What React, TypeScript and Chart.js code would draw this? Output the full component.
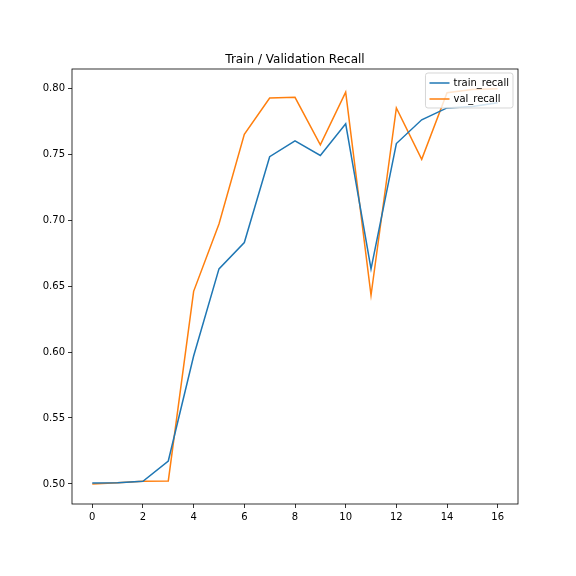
import React, { useEffect, useRef } from "react";
import { Chart, registerables } from "chart.js";

Chart.register(...registerables);

const epochs = [0, 1, 2, 3, 4, 5, 6, 7, 8, 9, 10, 11, 12, 13, 14, 15, 16];
const trainRecall = [0.5008, 0.501, 0.502, 0.5174, 0.597, 0.663, 0.683, 0.748, 0.760, 0.749, 0.773, 0.663, 0.758, 0.776, 0.785, 0.786, 0.789];
const valRecall = [0.500, 0.501, 0.502, 0.5023, 0.646, 0.697, 0.765, 0.7925, 0.793, 0.757, 0.797, 0.643, 0.785, 0.746, 0.7965, 0.799, 0.7995];
const xTicks = [0, 2, 4, 6, 8, 10, 12, 14, 16];
const yTicks = [0.5, 0.55, 0.6, 0.65, 0.7, 0.75, 0.8];
const titleText = "Train / Validation Recall";
const seriesNames = ["train_recall", "val_recall"];
const seriesColors = ["#1f77b4", "#ff7f0e"];

const FONT = "'DejaVu Sans', sans-serif";

const framePlugin = {
  id: "frame",
  afterDraw(chart: any) {
    const { ctx, chartArea } = chart;
    const { left, right, top, bottom } = chartArea;
    ctx.save();
    // spines
    ctx.strokeStyle = "#000";
    ctx.lineWidth = 0.8;
    ctx.strokeRect(left, top, right - left, bottom - top);
    // title
    ctx.fillStyle = "#000";
    ctx.font = `12px ${FONT}`;
    ctx.textAlign = "center";
    ctx.textBaseline = "alphabetic";
    ctx.fillText(titleText, (left + right) / 2, top - 6);
    // legend
    ctx.font = `10px ${FONT}`;
    const textW = Math.max(...seriesNames.map((n) => ctx.measureText(n).width));
    const bw = 4 + 20 + 4 + textW + 4;
    const bh = 35;
    const bx = right - 5 - bw;
    const by = top + 4;
    const r = 2.5;
    ctx.beginPath();
    ctx.moveTo(bx + r, by);
    ctx.lineTo(bx + bw - r, by);
    ctx.quadraticCurveTo(bx + bw, by, bx + bw, by + r);
    ctx.lineTo(bx + bw, by + bh - r);
    ctx.quadraticCurveTo(bx + bw, by + bh, bx + bw - r, by + bh);
    ctx.lineTo(bx + r, by + bh);
    ctx.quadraticCurveTo(bx, by + bh, bx, by + bh - r);
    ctx.lineTo(bx, by + r);
    ctx.quadraticCurveTo(bx, by, bx + r, by);
    ctx.closePath();
    ctx.fillStyle = "rgba(255,255,255,0.8)";
    ctx.fill();
    ctx.strokeStyle = "rgba(204,204,204,0.8)";
    ctx.lineWidth = 1;
    ctx.stroke();
    seriesNames.forEach((name, i) => {
      const ly = by + 10 + i * 16;
      ctx.strokeStyle = seriesColors[i];
      ctx.lineWidth = 1.5;
      ctx.beginPath();
      ctx.moveTo(bx + 4, ly);
      ctx.lineTo(bx + 24, ly);
      ctx.stroke();
      ctx.fillStyle = "#000";
      ctx.textAlign = "left";
      ctx.textBaseline = "middle";
      ctx.fillText(name, bx + 28, ly);
    });
    ctx.restore();
  },
};

export default function App() {
  const ref = useRef<HTMLCanvasElement>(null);
  useEffect(() => {
    if (!ref.current) return;
    const chart = new Chart(ref.current, {
      type: "line",
      data: {
        datasets: [
          {
            label: seriesNames[0],
            data: epochs.map((e, i) => ({ x: e, y: trainRecall[i] })),
            borderColor: seriesColors[0],
            backgroundColor: seriesColors[0],
            borderWidth: 1.5,
            pointRadius: 0,
            tension: 0,
          },
          {
            label: seriesNames[1],
            data: epochs.map((e, i) => ({ x: e, y: valRecall[i] })),
            borderColor: seriesColors[1],
            backgroundColor: seriesColors[1],
            borderWidth: 1.5,
            pointRadius: 0,
            tension: 0,
          },
        ],
      },
      options: {
        animation: false,
        responsive: false,
        maintainAspectRatio: false,
        layout: { padding: { left: 0, right: 58, top: 69, bottom: 0 } },
        plugins: {
          legend: { display: false },
          title: { display: false },
          tooltip: { enabled: false },
        },
        scales: {
          x: {
            type: "linear",
            min: -0.8,
            max: 16.8,
            afterBuildTicks: (s: any) => {
              s.ticks = xTicks.map((v) => ({ value: v }));
            },
            afterFit: (s: any) => {
              s.height = 72;
            },
            grid: { drawOnChartArea: false, tickLength: 4, color: "#000", tickWidth: 0.8 },
            border: { display: false },
            ticks: {
              color: "#000",
              font: { family: FONT, size: 10 },
              padding: 3,
              maxRotation: 0,
              autoSkip: false,
              callback: (v: any) => String(v),
            },
          },
          y: {
            type: "linear",
            min: 0.4848,
            max: 0.8145,
            afterBuildTicks: (s: any) => {
              s.ticks = yTicks.map((v) => ({ value: v }));
            },
            afterFit: (s: any) => {
              s.width = 72;
            },
            grid: { drawOnChartArea: false, tickLength: 4, color: "#000", tickWidth: 0.8 },
            border: { display: false },
            ticks: {
              color: "#000",
              font: { family: FONT, size: 10 },
              padding: 3,
              autoSkip: false,
              callback: (v: any) => Number(v).toFixed(2),
            },
          },
        },
      },
      plugins: [framePlugin],
    });
    return () => chart.destroy();
  }, []);
  return (
    <div style={{ position: "absolute", left: 0, top: 0, width: 576, height: 576, background: "#fff" }}>
      <canvas ref={ref} width={576} height={576} style={{ width: 576, height: 576, display: "block" }} />
    </div>
  );
}
